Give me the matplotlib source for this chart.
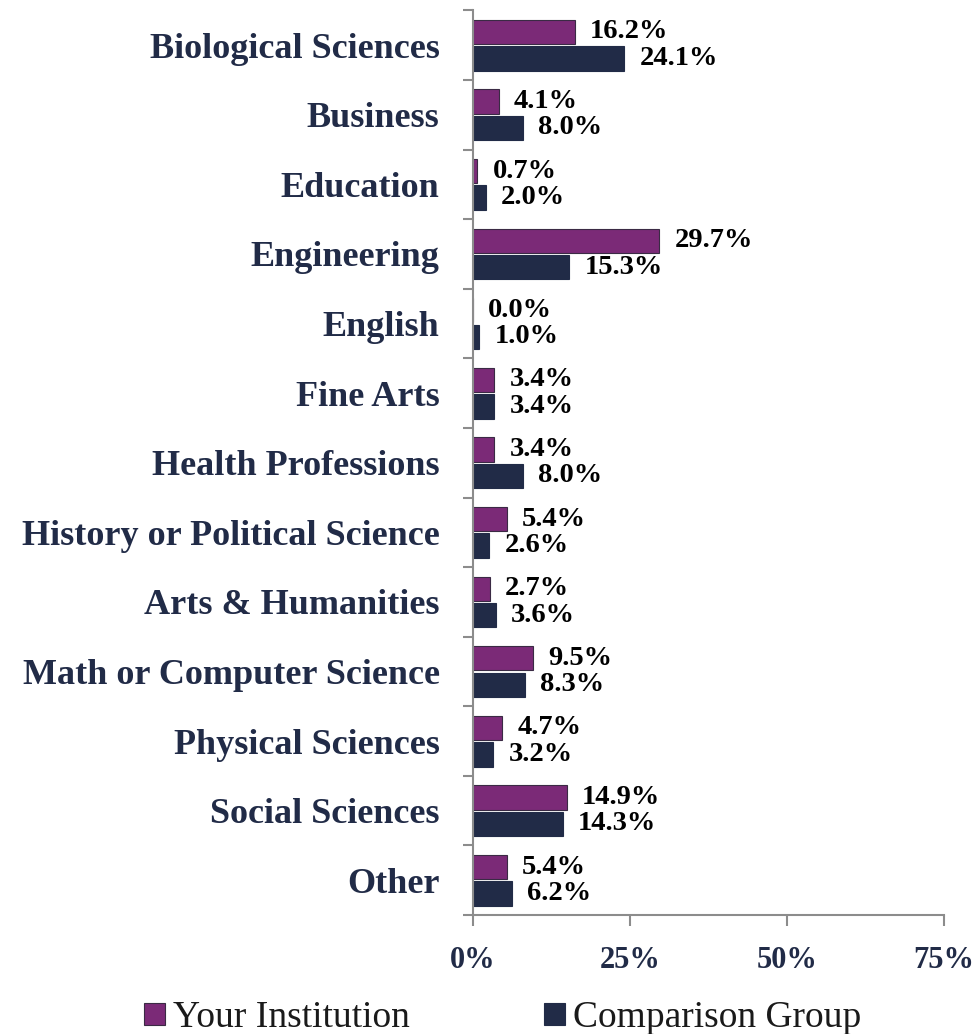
import matplotlib
matplotlib.use("Agg")
import matplotlib.pyplot as plt
import numpy as np

# --- data
categories = [
    "Biological Sciences", "Business", "Education", "Engineering", "English",
    "Fine Arts", "Health Professions", "History or Political Science",
    "Arts & Humanities", "Math or Computer Science", "Physical Sciences",
    "Social Sciences", "Other",
]
your_institution = [16.2, 4.1, 0.7, 29.7, 0.0, 3.4, 3.4, 5.4, 2.7, 9.5, 4.7, 14.9, 5.4]
comparison_group = [24.1, 8.0, 2.0, 15.3, 1.0, 3.4, 8.0, 2.6, 3.6, 8.3, 3.2, 14.3, 6.2]
x_ticks = [0, 25, 50, 75]

PURPLE = "#7B2A77"
NAVY = "#212B47"
AXIS = "#8C8C8C"
SERIF = ["Liberation Serif", "DejaVu Serif"]

plt.rcParams["font.family"] = SERIF

fig = plt.figure(figsize=(9.76, 10.34), dpi=100)
ax = fig.add_axes([0.4846, 0.115, 0.4826, 0.875])

y = np.arange(len(categories))
h = 0.35
b1 = ax.barh(y - 0.19, your_institution, height=h, color=PURPLE,
             edgecolor="#3a2a44", linewidth=0.8, label="Your Institution")
b2 = ax.barh(y + 0.19, comparison_group, height=h, color=NAVY,
             edgecolor=NAVY, linewidth=0.8, label="Comparison Group")

# value labels just right of each bar
for bars, vals in ((b1, your_institution), (b2, comparison_group)):
    for bar, v in zip(bars, vals):
        ax.annotate(f"{v:.1f}%", (v, bar.get_y() + bar.get_height() / 2),
                    xytext=(11, 0), textcoords="offset points",
                    ha="left", va="center", fontsize=20.5, fontweight="bold",
                    color="black")

ax.set_xlim(0, 75)
ax.set_ylim(len(categories) - 0.5, -0.5)
ax.set_xticks(x_ticks)
ax.set_xticklabels([f"{t}%" for t in x_ticks])
ax.set_yticks(y)
ax.set_yticklabels(categories)
ax.set_yticks(np.arange(len(categories) + 1) - 0.5, minor=True)

for s in ("top", "right"):
    ax.spines[s].set_visible(False)
for s in ("left", "bottom"):
    ax.spines[s].set_color(AXIS)
    ax.spines[s].set_linewidth(1.5)

ax.tick_params(axis="y", which="major", length=0, pad=24,
               labelsize=26, labelcolor=NAVY)
ax.tick_params(axis="y", which="minor", length=7, width=1.5, color=AXIS)
ax.tick_params(axis="x", which="major", length=8, width=1.5, color=AXIS,
               pad=14, labelsize=22, labelcolor=NAVY)
for lbl in ax.get_yticklabels() + ax.get_xticklabels():
    lbl.set_fontweight("bold")

leg = fig.legend(handles=[b1, b2], loc="lower center", ncol=2, frameon=False,
                 bbox_to_anchor=(0.515, -0.034), fontsize=27, handlelength=0.55,
                 handleheight=0.55, handletextpad=0.2, columnspacing=3.6)
for t in leg.get_texts():
    t.set_color("#1a1a1a")

fig.savefig("out.png", dpi=100, facecolor="white")
